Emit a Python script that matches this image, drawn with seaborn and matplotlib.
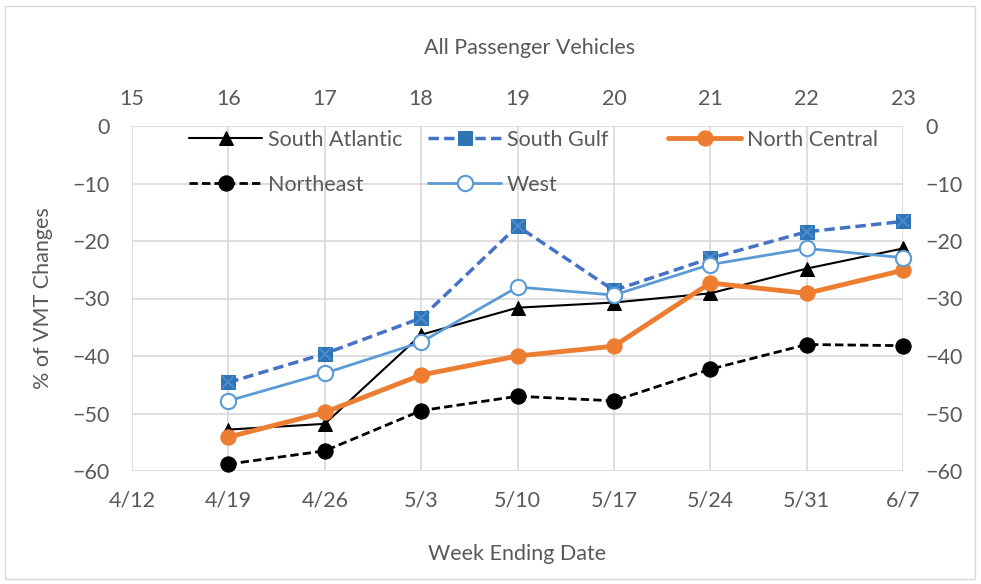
import matplotlib
matplotlib.use('Agg')
import matplotlib.pyplot as plt
import seaborn as sns
from matplotlib.patches import Rectangle

# data
weeks = ['4/12', '4/19', '4/26', '5/3', '5/10', '5/17', '5/24', '5/31', '6/7']
week_numbers = ['15', '16', '17', '18', '19', '20', '21', '22', '23']
data_weeks = weeks[1:]

south_atlantic = [-52.8, -51.8, -36.3, -31.6, -30.7, -29.1, -24.8, -21.3]
south_gulf = [-44.6, -39.6, -33.4, -17.4, -28.6, -23.0, -18.4, -16.6]
north_central = [-54.1, -49.8, -43.3, -40.0, -38.3, -27.3, -29.1, -25.1]
northeast = [-58.8, -56.5, -49.5, -47.0, -47.8, -42.3, -38.0, -38.2]
west = [-47.8, -43.0, -37.6, -28.0, -29.4, -24.1, -21.3, -22.9]

y_ticks = [0, -10, -20, -30, -40, -50, -60]

sns.set_theme(style='white')
plt.rcParams['font.family'] = ['Lato', 'DejaVu Sans']
grey = '#595959'
fs = 15.5

fig = plt.figure(figsize=(9.81, 5.84), dpi=100)
ax = fig.add_axes([132 / 981, 1 - 471 / 584, 771 / 981, 345 / 584])

xpos = [weeks.index(w) for w in data_weeks]

sns.lineplot(x=xpos, y=south_atlantic, ax=ax, color='black', linewidth=1.5,
             marker='^', markersize=10, markeredgecolor='black', label='South Atlantic', clip_on=False)
sns.lineplot(x=xpos, y=south_gulf, ax=ax, color='#4472C4', linewidth=2.5, linestyle=(0, (3, 1.5)),
             marker='s', markersize=10, markerfacecolor='#2E75B6', markeredgecolor='#2E75B6',
             label='South Gulf', clip_on=False)
# the x drawn inside the square markers
ax.plot(xpos, south_gulf, linestyle='none', marker='x', markersize=8,
        markeredgecolor='#4A8AD0', markeredgewidth=1.5, clip_on=False)
sns.lineplot(x=xpos, y=north_central, ax=ax, color='#ED7D31', linewidth=3.5,
             marker='o', markersize=11, markeredgecolor='#ED7D31', label='North Central', clip_on=False)
sns.lineplot(x=xpos, y=northeast, ax=ax, color='black', linewidth=2, linestyle=(0, (3, 1.5)),
             marker='o', markersize=11, markeredgecolor='black', label='Northeast', clip_on=False)
sns.lineplot(x=xpos, y=west, ax=ax, color='#5B9BD5', linewidth=2,
             marker='o', markersize=11, markerfacecolor='white', markeredgecolor='#5B9BD5',
             markeredgewidth=1.5, label='West', clip_on=False)

ax.set_xlim(0, len(weeks) - 1)
ax.set_ylim(-60, 0)
ax.set_xticks(range(len(weeks)))
ax.set_xticklabels(weeks)
ax.set_yticks(y_ticks)
ax.grid(True, color='#d9d9d9', linewidth=1.2)
ax.tick_params(axis='x', length=0, pad=14, labelsize=fs, labelcolor=grey)
ax.tick_params(axis='y', length=0, pad=16, labelsize=fs, labelcolor=grey)
for s in ax.spines.values():
    s.set_visible(False)
ax.set_xlabel('Week Ending Date', fontsize=fs, color=grey, labelpad=24)
ax.set_ylabel('% of VMT Changes', fontsize=fs, color=grey, labelpad=14)

# legend: three fixed-width columns like Excel
handles, labels = ax.get_legend_handles_labels()
hmap = dict(zip(labels, handles))
ax.get_legend().remove()
columns = [(['South Atlantic', 'Northeast'], 189), (['South Gulf', 'West'], 428), (['North Central'], 668)]
for names, px in columns:
    leg = ax.legend([hmap[n] for n in names], names, loc='upper left',
                    bbox_to_anchor=((px - 132) / 771, (471 - 130) / 345),
                    frameon=False, fontsize=fs, handlelength=3.4, handletextpad=0.25,
                    labelspacing=1.15, borderpad=0, borderaxespad=0, labelcolor=grey)
    ax.add_artist(leg)
ax.legend_ = None

# top axis with week numbers
ax_top = ax.twiny()
ax_top.set_xlim(ax.get_xlim())
ax_top.set_xticks(range(len(week_numbers)))
ax_top.set_xticklabels(week_numbers)
ax_top.tick_params(axis='x', length=0, pad=12, labelsize=fs, labelcolor=grey)
for s in ax_top.spines.values():
    s.set_visible(False)

# right axis mirrors the left one
ax_right = ax.twinx()
ax_right.set_ylim(ax.get_ylim())
ax_right.set_yticks(y_ticks)
ax_right.tick_params(axis='y', length=0, pad=16, labelsize=fs, labelcolor=grey)
for s in ax_right.spines.values():
    s.set_visible(False)
ax_right.grid(False)
ax_top.grid(False)

fig.text(530 / 981, 1 - 48 / 584, 'All Passenger Vehicles', ha='center', va='center',
         fontsize=fs, color=grey)
fig.patches.append(Rectangle((5 / 981, 5 / 584), 970 / 981, 573 / 584, transform=fig.transFigure,
                             fill=False, edgecolor='#d9d9d9', linewidth=1))

fig.savefig('out.png', dpi=100)
